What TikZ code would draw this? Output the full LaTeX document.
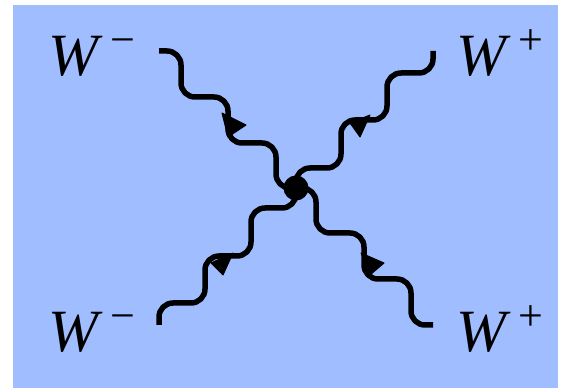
\documentclass[tikz,border=0pt]{standalone}
\usepackage{fontspec}
\setmainfont{Liberation Serif}
\definecolor{bgblue}{RGB}{160,190,255}
\newcommand\mysup[1]{\kern12pt\raisebox{21pt}{\fontsize{44}{44}\selectfont\upshape #1}}
\begin{document}
\begin{tikzpicture}[x=1pt,y=1pt,
  photon/.style={line width=5.5pt, rounded corners=14pt},
  tipmark/.style={fill=black, draw=black, line width=1pt, line join=round},
  lbl/.style={inner sep=0pt, anchor=base west, font=\fontsize{60}{60}\selectfont\itshape}]
\useasboundingbox (0,0) rectangle (567,388);
\fill[bgblue] (13,0) rectangle (558,383);
\coordinate (V) at (296,200);
\foreach \r/\n in {0/tl,-90/tr,-180/br,-270/bl}{
  \begin{scope}[shift={(V)}, rotate=\r]
   \coordinate (\n) at (-137,137);
   \draw[photon] (\n) -- (-115,137) -- (-115,91) -- (-68,91) -- (-68,45) -- (-20,45) -- (-20,0) -- (V);
  \end{scope}
}
\draw[tipmark] (222,275) -- (246,263) -- (228,251) -- cycle;
\draw[tipmark] (370,273) -- (360,251) -- (350,265) -- cycle;
\draw[tipmark] (233,135) -- (223,113) -- (211,125) -- cycle;
\draw[tipmark] (361,135) -- (384,125) -- (370,113) -- cycle;
\fill (V) circle (12.5);
\node[lbl] (ltl) at (48,312) {W\mysup{−}};
\node[lbl] (ltr) at (456,312) {W\mysup{+}};
\node[lbl] (lbl) at (48,37) {W\mysup{−}};
\node[lbl] (lbr) at (456,37) {W\mysup{+}};
\end{tikzpicture}
\end{document}
